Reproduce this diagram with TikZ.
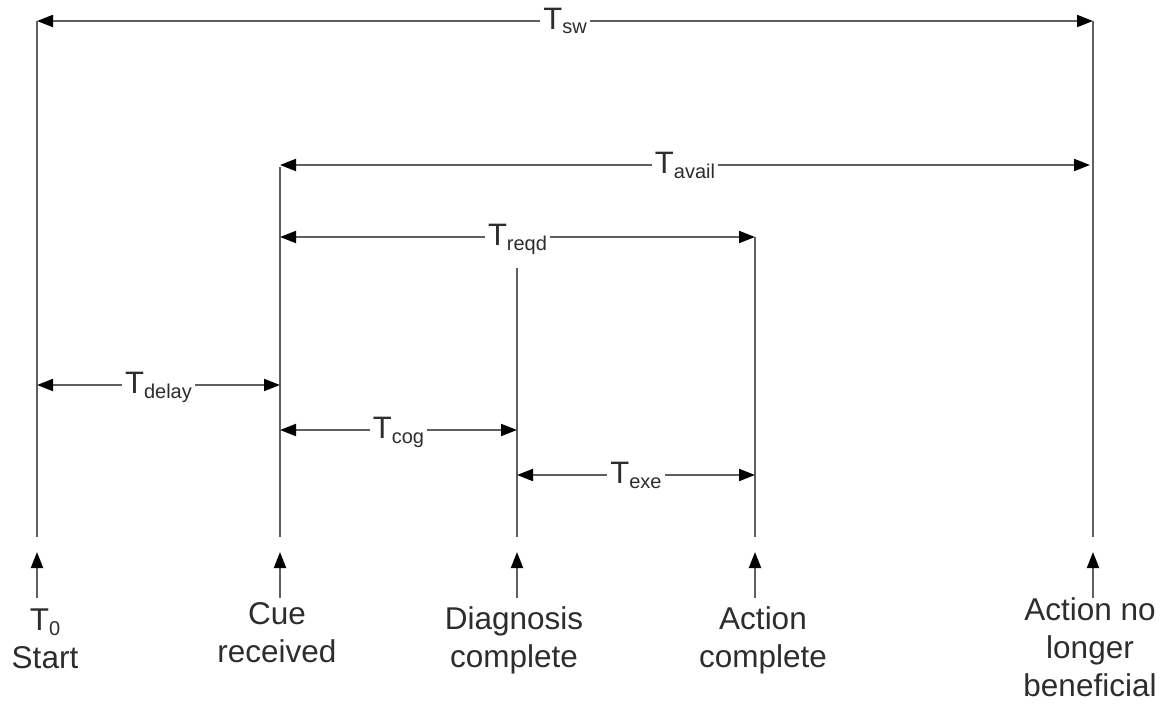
\documentclass[tikz,border=0pt]{standalone}
\usepackage{fontspec}
\setmainfont{Liberation Sans}
\usetikzlibrary{arrows.meta}
\definecolor{linegray}{RGB}{95,95,95}
\definecolor{textgray}{RGB}{45,45,45}
\newcommand\Tlab[1]{T\raisebox{-5pt}{\fontsize{20}{20}\selectfont #1}}
\begin{document}
\begin{tikzpicture}[x=1pt,y=-1pt,
  tip/.tip={Triangle[length=16pt,width=12pt,color=black]},
  tick/.style={draw=linegray,line width=2pt},
  dim/.style={draw=linegray,line width=2pt,tip-tip},
  pointer/.style={draw=linegray,line width=2pt,-tip},
  lab/.style={fill=white,inner xsep=3pt,inner ysep=1pt,anchor=base,yshift=-8pt,
    text=textgray,font=\fontsize{31}{31}\selectfont},
  evt/.style={anchor=north,inner sep=0pt,align=center,text=textgray,
    font=\fontsize{31.5}{38}\selectfont}]
\useasboundingbox (0,0) rectangle (1165,704);
% vertical lines
\coordinate (a0) at (37,21);   \coordinate (b0) at (37,537);
\coordinate (a1) at (280,167); \coordinate (b1) at (280,537);
\coordinate (a2) at (517,268); \coordinate (b2) at (517,537);
\coordinate (a3) at (755,237); \coordinate (b3) at (755,537);
\coordinate (a4) at (1093,21); \coordinate (b4) at (1093,537);
\draw[tick] (a0) -- (b0);
\draw[tick] (a1) -- (b1);
\draw[tick] (a2) -- (b2);
\draw[tick] (a3) -- (b3);
\draw[tick] (a4) -- (b4);
% dimension arrows
\coordinate (sw1) at (37,21);   \coordinate (sw2) at (1093,21);
\coordinate (av1) at (280,165); \coordinate (av2) at (1090,165);
\coordinate (rq1) at (280,237); \coordinate (rq2) at (755,237);
\coordinate (dl1) at (37,385);  \coordinate (dl2) at (280,385);
\coordinate (cg1) at (280,430); \coordinate (cg2) at (517,430);
\coordinate (ex1) at (517,475); \coordinate (ex2) at (755,475);
\draw[dim] (sw1) -- node[lab] (Lsw) {\Tlab{sw}} (sw2);
\draw[dim] (av1) -- node[lab] (Lav) {\Tlab{avail}} (av2);
\draw[dim] (rq1) -- node[lab] (Lrq) {\Tlab{reqd}} (rq2);
\draw[dim] (dl1) -- node[lab] (Ldl) {\Tlab{delay}} (dl2);
\draw[dim] (cg1) -- node[lab] (Lcg) {\Tlab{cog}} (cg2);
\draw[dim] (ex1) -- node[lab] (Lex) {\Tlab{exe}} (ex2);
% event pointers
\foreach \i/\x in {0/37,1/280,2/517,3/755,4/1093}{
  \coordinate (t\i) at (\x,598); \coordinate (h\i) at (\x,552);
  \draw[pointer] (t\i) -- (h\i);
}
\node[evt] (e0) at (45,609) {T\raisebox{-5pt}{\fontsize{20}{20}\selectfont 0}\\Start};
\node[evt] (e1) at (277,602) {Cue\\received};
\node[evt] (e2) at (514,606) {Diagnosis\\complete};
\node[evt] (e3) at (763,606) {Action\\complete};
\node[evt] (e4) at (1090,597) {Action no\\longer\\beneficial};
\end{tikzpicture}
\end{document}
